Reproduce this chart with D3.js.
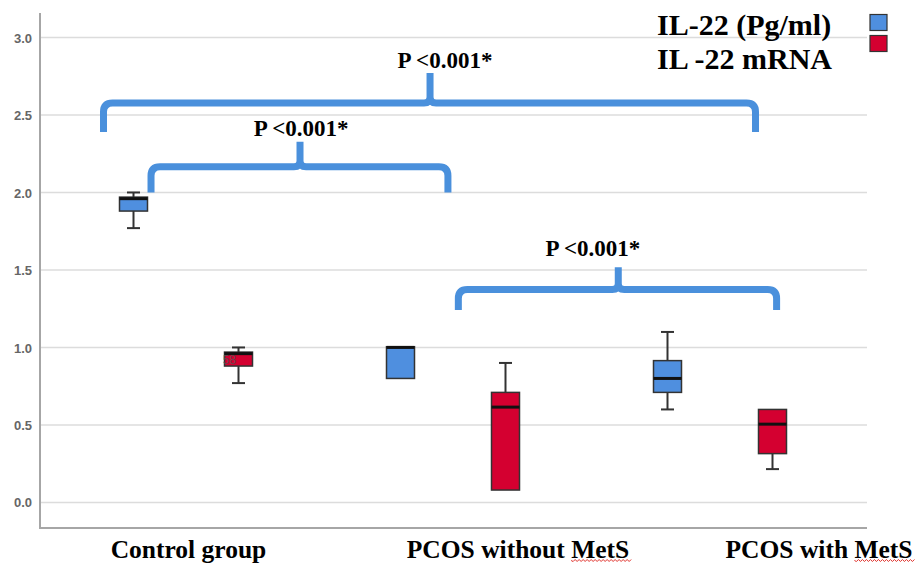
<!DOCTYPE html>
<html>
<head>
<meta charset="utf-8">
<script src="https://cdnjs.cloudflare.com/ajax/libs/d3/7.8.5/d3.min.js"></script>
<style>
  body { margin: 0; background: #fff; }
  .tick-label { font-family: "Liberation Sans", Arial, sans-serif; font-size: 13px; font-weight: bold; fill: #666; }
  .cat-label, .legend-label, .p-label { font-family: "Liberation Serif", "Times New Roman", serif; font-weight: bold; fill: #000; }
</style>
</head>
<body>
<div class="chart-container"></div>
<script>
/*******************************/
/*            Data             */
/*******************************/

var groups = ["Control group", "PCOS without MetS", "PCOS with MetS"];
var series = ["IL-22 (Pg/ml)", "IL -22 mRNA"];
var series_colors = ["#4f8fdf", "#d40030"];

// five-number summaries, one per group
var il22_protein = [
  { min: 1.77,  q1: 1.88,  med: 1.96,  q3: 1.97,  max: 2.00 },
  { min: 0.80,  q1: 0.80,  med: 1.00,  q3: 1.005, max: 1.005 },
  { min: 0.60,  q1: 0.71,  med: 0.80,  q3: 0.915, max: 1.10 }
];
var il22_mrna = [
  { min: 0.77,  q1: 0.88,  med: 0.96,  q3: 0.97,  max: 1.00 },
  { min: 0.075, q1: 0.08,  med: 0.615, q3: 0.71,  max: 0.90 },
  { min: 0.215, q1: 0.315, med: 0.505, q3: 0.60,  max: 0.60 }
];

var y_ticks = [0, 0.5, 1.0, 1.5, 2.0, 2.5, 3.0];

// case label SPSS printed next to the control mRNA box
var case_labels = [{ group: 0, serie: 1, value: 0.92, text: "58" }];

// significance brackets: x in group index units, y in data units
var brackets = [
  { x1: -0.309, x2: 2.133, peak_x: 0.914, level: 2.577, drop: 2.390, peak: 2.771 },
  { x1: -0.131, x2: 0.981, peak_x: 0.427, level: 2.166, drop: 1.999, peak: 2.328 },
  { x1: 1.020,  x2: 2.212, peak_x: 1.619, level: 1.374, drop: 1.242, peak: 1.517 }
];
var p_labels = [
  { x: 0.970, y: 2.803, text: "P <0.001*" },
  { x: 0.431, y: 2.365, text: "P <0.001*" },
  { x: 1.524, y: 1.590, text: "P <0.001*" }
];

/*******************************/
/*         Chart setup         */
/*******************************/

var width = 919,
    height = 565;

var axis_left = 40, axis_right = 867, axis_top = 13, axis_bottom = 528;

var svg = d3.select(".chart-container").append("svg")
  .attr("width", width)
  .attr("height", height);

var y = d3.scaleLinear()
  .domain([-0.165, 3.158])
  .range([axis_bottom, axis_top]);

var x = d3.scaleBand()
  .domain(groups)
  .range([52.5, 853.5]);

var x_sub = d3.scalePoint()
  .domain(series)
  .range([81, 186]);

// index based scale used for the brackets and p labels
var x_index = d3.scaleLinear()
  .domain([0, 1])
  .range([x(groups[0]) + x.bandwidth() / 2, x(groups[1]) + x.bandwidth() / 2]);

var box_width = 28, cap_width = 13;

/*******************************/
/*          Grid/axes          */
/*******************************/

svg.append("g")
  .selectAll("line")
  .data(y_ticks)
  .enter()
  .append("line")
  .attr("x1", axis_left)
  .attr("x2", axis_right)
  .attr("y1", function(d) { return y(d); })
  .attr("y2", function(d) { return y(d); })
  .attr("stroke", "#dcdcdc")
  .attr("stroke-width", 1.6);

var y_axis = d3.axisLeft(y)
  .tickValues(y_ticks)
  .tickFormat(d3.format(".1f"))
  .tickSize(0)
  .tickPadding(8);

var gy = svg.append("g")
  .attr("transform", "translate(" + axis_left + ",0)")
  .call(y_axis);
gy.select(".domain").remove();
gy.selectAll("text").attr("class", "tick-label").attr("dy", "0.35em");

svg.append("path")
  .attr("d", "M" + axis_left + "," + axis_top + "V" + axis_bottom + "H" + axis_right)
  .attr("fill", "none")
  .attr("stroke", "#a6a6a6")
  .attr("stroke-width", 2);

/*******************************/
/*          Box plots          */
/*******************************/

var boxes = [];
groups.forEach(function(g, i) {
  boxes.push({ group: g, serie: series[0], color: series_colors[0], s: il22_protein[i] });
  boxes.push({ group: g, serie: series[1], color: series_colors[1], s: il22_mrna[i] });
});

var box_g = svg.append("g")
  .selectAll("g")
  .data(boxes)
  .enter()
  .append("g")
  .attr("transform", function(d) { return "translate(" + (x(d.group) + x_sub(d.serie)) + ",0)"; });

// whiskers
box_g.each(function(d) {
  var g = d3.select(this);
  [[d.s.q3, d.s.max], [d.s.q1, d.s.min]].forEach(function(w) {
    if (Math.abs(w[0] - w[1]) < 0.012) return;
    g.append("line")
      .attr("x1", 0).attr("x2", 0)
      .attr("y1", y(w[0])).attr("y2", y(w[1]))
      .attr("stroke", "#333").attr("stroke-width", 2);
    g.append("line")
      .attr("x1", -cap_width / 2).attr("x2", cap_width / 2)
      .attr("y1", y(w[1])).attr("y2", y(w[1]))
      .attr("stroke", "#333").attr("stroke-width", 2);
  });
});

box_g.append("rect")
  .attr("x", -box_width / 2)
  .attr("width", box_width)
  .attr("y", function(d) { return y(d.s.q3); })
  .attr("height", function(d) { return y(d.s.q1) - y(d.s.q3); })
  .attr("fill", function(d) { return d.color; })
  .attr("stroke", "#333")
  .attr("stroke-width", 1.5);

box_g.append("line")
  .attr("x1", -box_width / 2)
  .attr("x2", box_width / 2)
  .attr("y1", function(d) { return y(d.s.med); })
  .attr("y2", function(d) { return y(d.s.med); })
  .attr("stroke", "#111")
  .attr("stroke-width", 3);

svg.selectAll(".case-label")
  .data(case_labels)
  .enter()
  .append("text")
  .attr("class", "case-label")
  .attr("x", function(d) { return x(groups[d.group]) + x_sub(series[d.serie]) - 9; })
  .attr("y", function(d) { return y(d.value); })
  .attr("dy", "0.35em")
  .attr("text-anchor", "middle")
  .style("font-family", "Liberation Sans, Arial, sans-serif")
  .style("font-size", "12px")
  .style("fill", "#555")
  .style("opacity", 0.8)
  .text(function(d) { return d.text; });

/*******************************/
/*   Brackets and P values     */
/*******************************/

function bracket_path(b) {
  var x1 = x_index(b.x1), x2 = x_index(b.x2), px = x_index(b.peak_x);
  var lv = y(b.level), dr = y(b.drop), pk = y(b.peak);
  var r = 9, c = 6;
  return "M" + x1 + "," + dr +
    "L" + x1 + "," + (lv + r) +
    "Q" + x1 + "," + lv + " " + (x1 + r) + "," + lv +
    "L" + (px - c) + "," + lv +
    "Q" + px + "," + lv + " " + px + "," + (lv - c) +
    "L" + px + "," + pk +
    "M" + px + "," + (lv - c) +
    "Q" + px + "," + lv + " " + (px + c) + "," + lv +
    "L" + (x2 - r) + "," + lv +
    "Q" + x2 + "," + lv + " " + x2 + "," + (lv + r) +
    "L" + x2 + "," + dr;
}

svg.append("g")
  .selectAll("path")
  .data(brackets)
  .enter()
  .append("path")
  .attr("d", bracket_path)
  .attr("fill", "none")
  .attr("stroke", "#4a90dc")
  .attr("stroke-width", 7);

svg.append("g")
  .selectAll("text")
  .data(p_labels)
  .enter()
  .append("text")
  .attr("class", "p-label")
  .attr("x", function(d) { return x_index(d.x); })
  .attr("y", function(d) { return y(d.y); })
  .attr("text-anchor", "middle")
  .style("font-size", "23px")
  .text(function(d) { return d.text; });

/*******************************/
/*       Category labels       */
/*******************************/

var label_shift = [2.5, 65, 99];   // labels are not centred on the groups
var label_baseline = 558;

var cat_labels = svg.append("g")
  .selectAll("text")
  .data(groups)
  .enter()
  .append("text")
  .attr("class", "cat-label")
  .attr("x", function(d, i) { return x(d) + x.bandwidth() / 2 + label_shift[i]; })
  .attr("y", label_baseline)
  .attr("text-anchor", "middle")
  .style("font-size", "25.5px")
  .text(function(d) { return d; });

// red spell check squiggle under "MetS"
cat_labels.each(function(d) {
  var idx = d.indexOf("MetS");
  if (idx < 0) return;
  var node = this;
  var start = node.getStartPositionOfChar(idx).x;
  var end = node.getEndPositionOfChar(d.length - 1).x;
  var yy = label_baseline + 2.5, pts = "M" + start + "," + yy;
  for (var xx = start, k = 0; xx < end; xx += 2, k++) {
    pts += "L" + (xx + 2) + "," + (yy + (k % 2 ? -1 : 1));
  }
  svg.append("path")
    .attr("d", pts)
    .attr("fill", "none")
    .attr("stroke", "#e0302a")
    .attr("stroke-width", 1);
});

/*******************************/
/*           Legend            */
/*******************************/

var legend = svg.append("g");

legend.selectAll("text")
  .data(series)
  .enter()
  .append("text")
  .attr("class", "legend-label")
  .attr("x", 657)
  .attr("y", function(d, i) { return 35 + i * 34; })
  .style("font-size", "30px")
  .text(function(d) { return d; });

legend.selectAll("rect")
  .data(series)
  .enter()
  .append("rect")
  .attr("x", 870)
  .attr("y", function(d, i) { return 14.5 + i * 21; })
  .attr("width", 17)
  .attr("height", 16)
  .attr("fill", function(d, i) { return series_colors[i]; })
  .attr("stroke", "#333")
  .attr("stroke-width", 1.2);
</script>
</body>
</html>
